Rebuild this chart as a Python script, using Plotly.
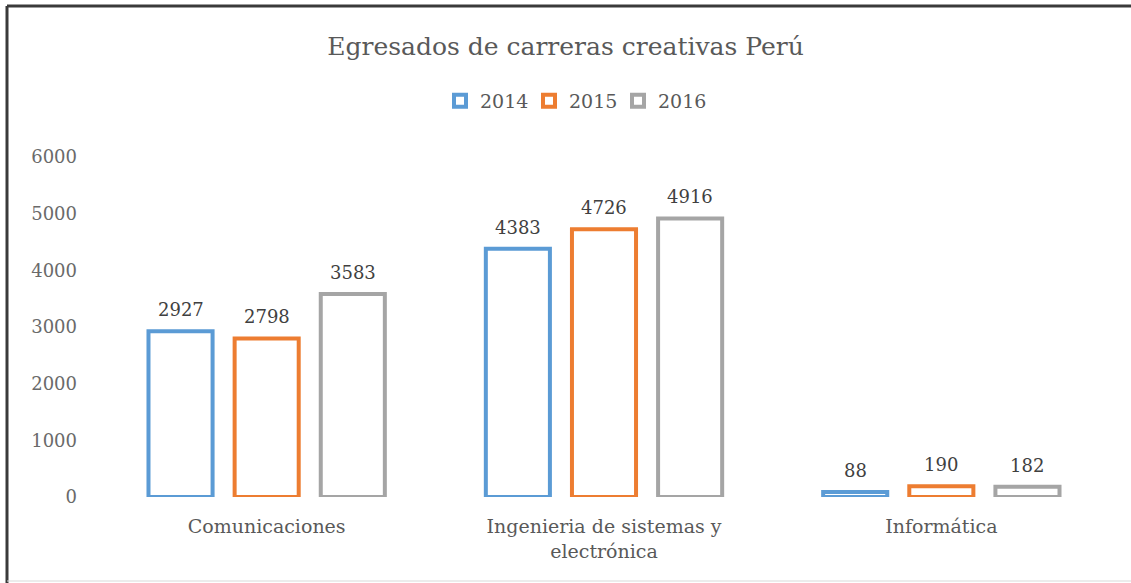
import plotly.graph_objects as go

categories = ["Comunicaciones", "Ingenieria de sistemas y<br>electrónica", "Informática"]
years = ["2014", "2015", "2016"]
values_2014 = [2927, 4383, 88]
values_2015 = [2798, 4726, 190]
values_2016 = [3583, 4916, 182]
colors = ["#5B9BD5", "#ED7D31", "#A5A5A5"]

series = [values_2014, values_2015, values_2016]
FONT = "DejaVu Serif"
BARGAP = 0.234

fig = go.Figure()
for name, vals, col in zip(years, series, colors):
    fig.add_trace(go.Bar(
        x=categories, y=vals, name=name,
        marker=dict(color="white", line=dict(color=col, width=4)),
    ))

# value labels above bars
slot = (1 - BARGAP) / len(series)
annotations = []
for j, vals in enumerate(series):
    for i, v in enumerate(vals):
        annotations.append(dict(
            x=i + (j - (len(series) - 1) / 2) * slot, y=v, xref="x", yref="y",
            text=str(v), showarrow=False, yanchor="bottom", yshift=9,
            font=dict(family=FONT, size=18, color="#404040"),
        ))

W, H = 1131, 583
L, R, T, B = 98, 21, 157, 86
pw, ph = W - L - R, H - T - B

def px_x(p):
    return (p - L) / pw

def px_y(p):
    return (H - B - p) / ph

fig.update_layout(
    width=W, height=H,
    margin=dict(l=L, r=R, t=T, b=B),
    paper_bgcolor="white", plot_bgcolor="white",
    barmode="group", bargap=BARGAP, bargroupgap=0.256,
    font=dict(family=FONT, color="#595959"),
    title=dict(text="Egresados de carreras creativas Perú", x=0.5, xanchor="center",
               y=1 - 46 / H, yanchor="middle",
               font=dict(family=FONT, size=25, color="#595959")),
    legend=dict(orientation="h", x=px_x(440), xanchor="left", y=px_y(101), yanchor="middle",
                font=dict(family=FONT, size=19, color="#595959"),
                itemwidth=30, entrywidth=44, tracegroupgap=0),
    xaxis=dict(showgrid=False, showline=False, zeroline=False, ticklabelstandoff=16,
               tickfont=dict(family=FONT, size=19, color="#595959")),
    yaxis=dict(range=[0, 6000], dtick=1000, showgrid=False, showline=False, zeroline=False,
               ticklabelstandoff=20,
               tickfont=dict(family=FONT, size=18, color="#6a6a6a")),
    annotations=annotations,
    shapes=[
        dict(type="line", xref="paper", yref="paper", x0=px_x(7), x1=px_x(7), y0=px_y(6), y1=px_y(583),
             line=dict(color="#3a3a3a", width=3)),
        dict(type="line", xref="paper", yref="paper", x0=px_x(7), x1=px_x(1131), y0=px_y(6), y1=px_y(6),
             line=dict(color="#3a3a3a", width=3)),
        dict(type="line", xref="paper", yref="paper", x0=px_x(7), x1=px_x(1131), y0=px_y(581), y1=px_y(581),
             line=dict(color="#d9d9d9", width=1)),
    ],
)

fig.write_html("out.html")
